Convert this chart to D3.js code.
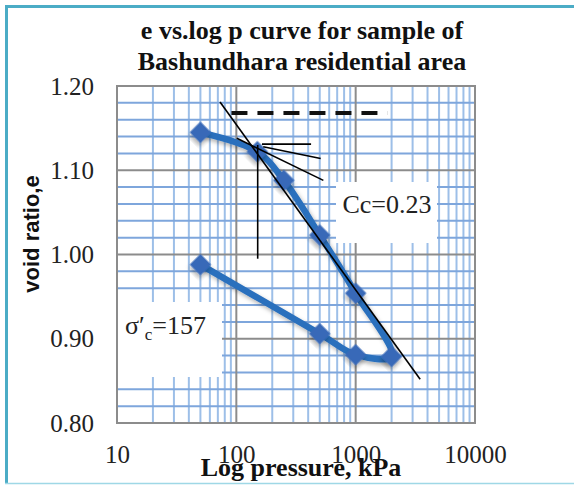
<!DOCTYPE html>
<html>
  <head>
    <meta charset="utf-8" />
    <script src="https://cdn.jsdelivr.net/npm/d3@7"></script>
    <style>
      body {
        margin: 0;
        background: #ffffff;
      }
      text {
        font-family: "Liberation Serif", "Times New Roman", serif;
      }
      .tick text {
        font-size: 25px;
        fill: #222;
      }
    </style>
  </head>
  <body>
    <svg id="chart" width="574" height="485"></svg>

    <script>
      // data
      const pressure = [50, 150, 250, 500, 1000, 2000, 1000, 500, 50];
      const voidRatio = [1.145, 1.122, 1.088, 1.023, 0.954, 0.879, 0.881, 0.906, 0.988];
      const xTicks = [10, 100, 1000, 10000];
      const yTicks = [0.8, 0.9, 1.0, 1.1, 1.2];

      // construction lines (pressure, e)
      const ccLine = [[73, 1.181], [3470, 0.852]];
      const dashLine = [[91, 1.168], [1850, 1.168]];
      const vertLine = [[151, 1.13], [151, 0.995]];
      const horizLine = [[164, 1.131], [423, 1.131]];
      const bisectLine = [[168, 1.128], [509, 1.114]];
      const tangentLine = [[101, 1.138], [536, 1.088]];

      const svg = d3.select("#chart");
      const pLeft = 117, pRight = 475, pTop = 86, pBottom = 423;

      const x = d3.scaleLog().domain([10, 10000]).range([pLeft, pRight]);
      const y = d3.scaleLinear().domain([0.8, 1.2]).range([pBottom, pTop]);

      // outer frame
      svg.append("line").attr("x1", 6.5).attr("x2", 6.5).attr("y1", 5).attr("y2", 484)
        .attr("stroke", "#4bacc6").attr("stroke-width", 3);
      svg.append("line").attr("x1", 5).attr("x2", 574).attr("y1", 6.5).attr("y2", 6.5)
        .attr("stroke", "#4bacc6").attr("stroke-width", 3);
      svg.append("line").attr("x1", 5).attr("x2", 574).attr("y1", 483.5).attr("y2", 483.5)
        .attr("stroke", "#9fd8e6").attr("stroke-width", 1.5);

      // title
      const title = svg.append("text")
        .attr("text-anchor", "middle")
        .style("font-weight", "bold")
        .style("font-size", "26px")
        .attr("fill", "#111");
      title.append("tspan").attr("x", 302).attr("y", 39).text("e vs.log p curve for sample of");
      title.append("tspan").attr("x", 302).attr("y", 70).text("Bashundhara residential area");

      // grid
      const grid = svg.append("g");
      const minorX = [];
      [10, 100, 1000].forEach(d => { for (let k = 2; k <= 9; k++) minorX.push(d * k); });
      const minorY = d3.range(41, 60).map(i => i / 50).filter(v => Math.round(v * 100) % 10 !== 0);
      const majorY = [0.9, 1.0, 1.1];
      const majorX = [100, 1000];

      grid.selectAll(".mx").data(minorX).join("line")
        .attr("x1", d => x(d)).attr("x2", d => x(d)).attr("y1", pTop).attr("y2", pBottom)
        .attr("stroke", "#9dbfe8").attr("stroke-width", 2);
      grid.selectAll(".my").data(minorY).join("line")
        .attr("x1", pLeft).attr("x2", pRight).attr("y1", d => y(d)).attr("y2", d => y(d))
        .attr("stroke", "#7ea6dc").attr("stroke-width", 2);
      grid.selectAll(".Mx").data(majorX).join("line")
        .attr("x1", d => x(d)).attr("x2", d => x(d)).attr("y1", pTop).attr("y2", pBottom)
        .attr("stroke", "#8c8c8c").attr("stroke-width", 2);
      grid.selectAll(".My").data(majorY).join("line")
        .attr("x1", pLeft).attr("x2", pRight).attr("y1", d => y(d)).attr("y2", d => y(d))
        .attr("stroke", "#8c8c8c").attr("stroke-width", 2);
      grid.append("rect")
        .attr("x", pLeft).attr("y", pTop).attr("width", pRight - pLeft).attr("height", pBottom - pTop)
        .attr("fill", "none").attr("stroke", "#8c8c8c").attr("stroke-width", 2);

      // label boxes (cover the grid)
      svg.append("rect").attr("x", 336).attr("y", 182).attr("width", 101).attr("height", 61).attr("fill", "#fff");
      svg.append("rect").attr("x", 118).attr("y", 302).attr("width", 104).attr("height", 75).attr("fill", "#fff");

      // axes
      svg.append("g")
        .attr("transform", `translate(0,${pBottom})`)
        .call(d3.axisBottom(x).tickValues(xTicks).tickFormat(d3.format("d")).tickSize(0).tickPadding(22))
        .call(g => g.select(".domain").remove())
        .selectAll("text").style("font-family", "Liberation Serif");
      svg.append("g")
        .attr("transform", `translate(${pLeft},0)`)
        .call(d3.axisLeft(y).tickValues(yTicks).tickFormat(d3.format(".2f")).tickSize(0).tickPadding(23))
        .call(g => g.select(".domain").remove())
        .selectAll("text").style("font-family", "Liberation Serif");

      svg.append("text")
        .attr("x", 301).attr("y", 476)
        .attr("text-anchor", "middle")
        .style("font-weight", "bold").style("font-size", "26px").attr("fill", "#111")
        .text("Log pressure, kPa");
      svg.append("text")
        .attr("transform", "translate(39,234) rotate(-90)")
        .attr("text-anchor", "middle")
        .style("font-family", "'Liberation Sans', Arial, sans-serif")
        .style("font-weight", "bold").style("font-size", "22px").attr("fill", "#111")
        .text("void ratio,e");

      // shadow for series
      const defs = svg.append("defs");
      defs.append("filter").attr("id", "shadow").attr("x", "-30%").attr("y", "-30%").attr("width", "160%").attr("height", "160%")
        .append("feDropShadow").attr("dx", 2).attr("dy", 3).attr("stdDeviation", 2)
        .attr("flood-color", "#000").attr("flood-opacity", 0.3);

      const pts = pressure.map((p, i) => [p, voidRatio[i]]);
      const line = d3.line().x(d => x(d[0])).y(d => y(d[1])).curve(d3.curveCatmullRom.alpha(0.5));

      svg.append("path").datum(pts)
        .attr("d", line)
        .attr("fill", "none").attr("stroke", "#2b70bd").attr("stroke-width", 6.5)
        .attr("stroke-linejoin", "round").attr("filter", "url(#shadow)");

      svg.selectAll(".pt").data(pts).join("path")
        .attr("d", d3.symbol(d3.symbolSquare, 230)())
        .attr("transform", d => `translate(${x(d[0])},${y(d[1])}) rotate(45)`)
        .attr("fill", "#3769b8").attr("filter", "url(#shadow)");

      // construction lines
      const straight = d3.line().x(d => x(d[0])).y(d => y(d[1]));
      [ccLine, vertLine, horizLine, bisectLine, tangentLine].forEach(l => {
        svg.append("path").attr("d", straight(l)).attr("stroke", "#000").attr("stroke-width", 1.6).attr("fill", "none");
      });
      svg.append("path").attr("d", straight(dashLine))
        .attr("stroke", "#111").attr("stroke-width", 4).attr("stroke-dasharray", "16,10").attr("fill", "none");

      // annotations
      svg.append("text").attr("x", 387).attr("y", 213).attr("text-anchor", "middle")
        .style("font-size", "26px").attr("fill", "#222").text("Cc=0.23");
      const sig = svg.append("text").attr("x", 125).attr("y", 334)
        .style("font-size", "26px").attr("fill", "#222");
      sig.append("tspan").text("σ′");
      sig.append("tspan").attr("dy", 6).style("font-size", "17px").text("c");
      sig.append("tspan").attr("dy", -6).text("=157");
    </script>
  </body>
</html>
